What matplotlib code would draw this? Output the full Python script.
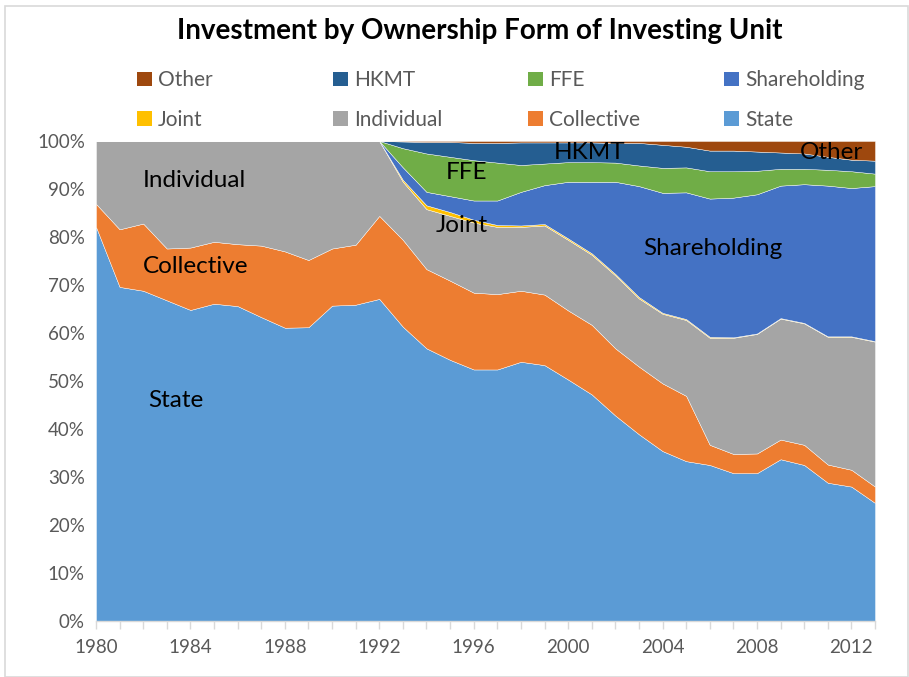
import matplotlib
matplotlib.use("Agg")
import matplotlib.pyplot as plt
import numpy as np
from matplotlib.patches import Patch, Rectangle

plt.rcParams['font.family'] = ['Lato', 'DejaVu Sans']

years = list(range(1980, 2014))

state = [82.1, 69.6, 68.8, 66.8, 64.8, 66.1, 65.6, 63.3, 61.1, 61.2, 65.7, 65.9, 67.1,
         61.3, 56.8, 54.4, 52.4, 52.4, 54.0, 53.3, 50.3, 47.2, 42.8, 38.9, 35.4, 33.3,
         32.5, 30.8, 30.8, 33.7, 32.5, 28.8, 28.0, 24.6]
collective = [4.8, 12.0, 14.0, 10.8, 13.0, 12.9, 12.9, 14.9, 15.9, 14.0, 11.9, 12.5, 17.3,
              18.1, 16.5, 16.5, 16.0, 15.7, 14.8, 14.7, 14.4, 14.5, 14.0, 14.1, 14.1, 13.6,
              4.2, 4.0, 4.1, 4.1, 4.2, 3.8, 3.5, 3.4]
individual = [13.1, 18.4, 17.2, 22.4, 22.2, 21.0, 21.5, 21.8, 23.0, 24.8, 22.4, 21.6, 15.6,
              12.1, 12.5, 13.5, 14.6, 14.0, 13.3, 14.4, 14.7, 14.6, 15.2, 14.2, 14.5, 15.8,
              22.3, 24.2, 24.9, 25.2, 25.3, 26.6, 27.7, 30.2]
joint = [0, 0, 0, 0, 0, 0, 0, 0, 0, 0, 0, 0, 0,
         0.4, 0.8, 0.8, 0.6, 0.4, 0.3, 0.3, 0.3, 0.3, 0.3, 0.3, 0.2, 0.2,
         0.2, 0.1, 0.1, 0.1, 0.1, 0.1, 0.1, 0.1]
shareholding = [0, 0, 0, 0, 0, 0, 0, 0, 0, 0, 0, 0, 0,
                2.6, 2.8, 3.3, 4.0, 5.1, 7.0, 8.1, 11.8, 14.9, 19.2, 23.1, 25.0, 26.4,
                28.8, 29.1, 29.0, 27.6, 28.9, 31.4, 30.9, 32.3]
ffe = [0, 0, 0, 0, 0, 0, 0, 0, 0, 0, 0, 0, 0,
       4.0, 8.0, 8.2, 8.4, 7.9, 5.6, 4.5, 4.1, 4.1, 4.0, 4.3, 5.2, 5.2,
       5.7, 5.5, 4.9, 3.5, 3.2, 3.3, 3.5, 2.6]
hkmt = [0, 0, 0, 0, 0, 0, 0, 0, 0, 0, 0, 0, 0,
        1.4, 2.4, 3.1, 3.6, 4.1, 4.7, 4.4, 4.1, 4.1, 4.1, 4.7, 4.8, 4.3,
        4.3, 4.3, 4.0, 3.4, 3.2, 2.7, 2.4, 2.7]
other = [0, 0, 0, 0, 0, 0, 0, 0, 0, 0, 0, 0, 0,
         0.1, 0.2, 0.2, 0.4, 0.4, 0.3, 0.3, 0.3, 0.3, 0.4, 0.4, 0.8, 1.2,
         2.0, 2.0, 2.2, 2.4, 2.6, 3.3, 3.9, 4.1]

names = ["State", "Collective", "Individual", "Joint", "Shareholding", "FFE", "HKMT", "Other"]
series = [state, collective, individual, joint, shareholding, ffe, hkmt, other]
colors = ["#5B9BD5", "#ED7D31", "#A5A5A5", "#FFC000", "#4472C4", "#70AD47", "#255E91", "#9E480E"]

data = np.array(series, dtype=float)
data = data / data.sum(axis=0) * 100.0

fig = plt.figure(figsize=(9.09, 6.77), dpi=100)
ax = fig.add_axes([96/909, 56/677, 779/909, 480/677])
ax.stackplot(years, data, colors=colors, edgecolor='white', linewidth=0.3)

ax.set_xlim(1980, 2013)
ax.set_ylim(0, 100)
ax.set_yticks(np.arange(0, 101, 10))
ax.set_yticklabels([f"{v}%" for v in range(0, 101, 10)])
ax.set_xticks(range(1980, 2013, 4))
ax.set_xticks(years, minor=True)
ax.tick_params(axis='x', which='both', length=6, color='#D9D9D9', width=1,
               labelsize=13.5, labelcolor='#595959', pad=7, direction='out')
ax.tick_params(axis='y', length=0, labelsize=13.5, labelcolor='#595959', pad=8)
for s in ['top', 'right', 'left']:
    ax.spines[s].set_visible(False)
ax.spines['bottom'].set_color('#D9D9D9')
ax.spines['bottom'].set_linewidth(1.0)

# In-plot labels
lab = dict(fontsize=17.5, color='black', va='center')
ax.text(1982.0, 91.7, "Individual", **lab)
ax.text(1982.0, 73.8, "Collective", **lab)
ax.text(1982.2, 46.0, "State", **lab)
ax.text(1994.4, 82.3, "Joint", **lab)
ax.text(1994.8, 93.5, "FFE", **lab)
ax.text(1999.4, 97.7, "HKMT", **lab)
ax.text(2009.8, 97.7, "Other", **lab)
ax.text(2003.2, 77.7, "Shareholding", **lab)

fig.text(480/909, 1 - 31/677, "Investment by Ownership Form of Investing Unit",
         ha='center', va='center', fontsize=20, fontweight='bold', color='black')

cols = [["Other", "Joint"], ["HKMT", "Individual"], ["FFE", "Collective"], ["Shareholding", "State"]]
xs = [137, 333, 528, 724]
for col, x in zip(cols, xs):
    handles = [Patch(facecolor=colors[names.index(n)], label=n) for n in col]
    fig.legend(handles=handles, ncol=1, loc='center left',
               bbox_to_anchor=(x/909, 1 - 100/677), borderpad=0, borderaxespad=0,
               frameon=False, fontsize=15, labelcolor='#595959', handlelength=0.7,
               handleheight=0.7, handletextpad=0.3, labelspacing=0.95)

fig.patches.append(Rectangle((5/909, 0), 1 - 5/909 - 1/909, 1 - 6/677, transform=fig.transFigure,
                             fill=False, edgecolor='#D9D9D9', linewidth=1.2))

fig.savefig("out.png", dpi=100)
